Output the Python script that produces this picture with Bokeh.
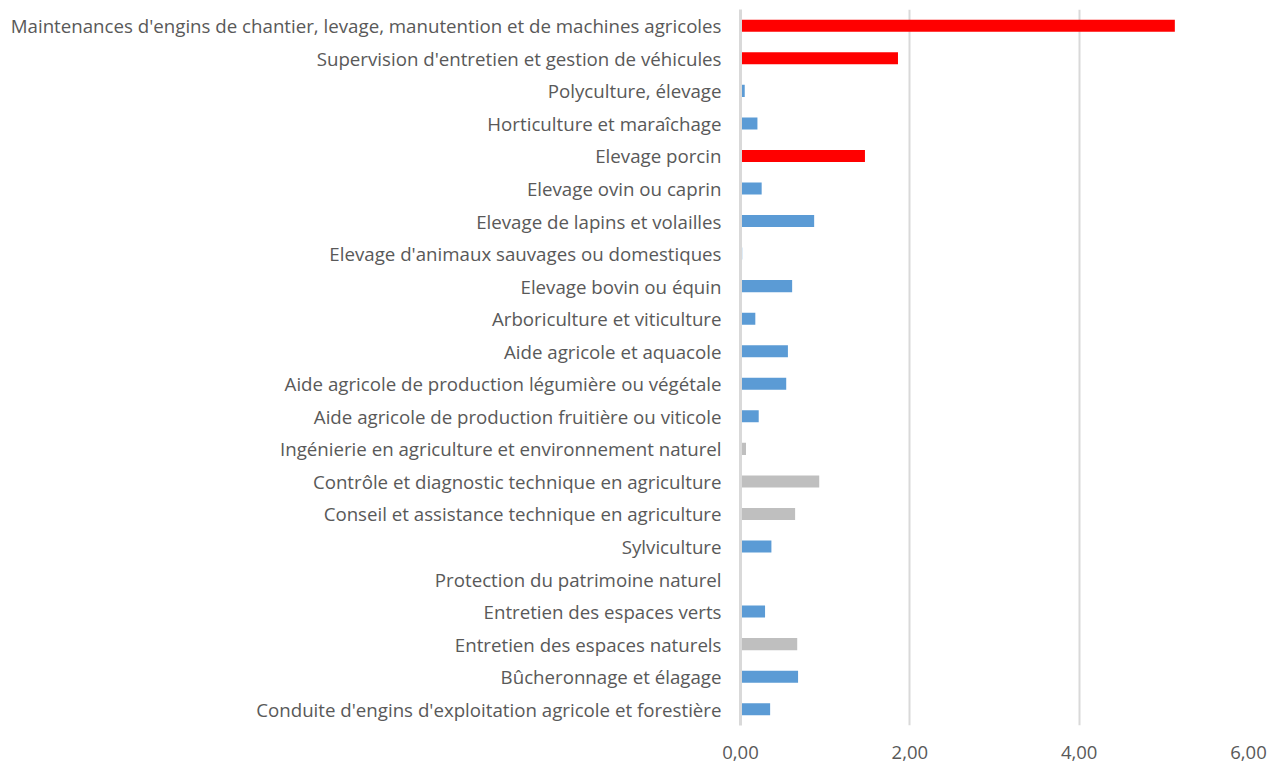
from bokeh.plotting import figure
from bokeh.models import FactorRange, FixedTicker, ColumnDataSource
from bokeh.transform import factor_cmap
from bokeh.embed import file_html
from bokeh.resources import INLINE

categories = [
    "Maintenances d'engins de chantier, levage, manutention et de machines agricoles",
    "Supervision d'entretien et gestion de véhicules",
    "Polyculture, élevage",
    "Horticulture et maraîchage",
    "Elevage porcin",
    "Elevage ovin ou caprin",
    "Elevage de lapins et volailles",
    "Elevage d'animaux sauvages ou domestiques",
    "Elevage bovin ou équin",
    "Arboriculture et viticulture",
    "Aide agricole et aquacole",
    "Aide agricole de production légumière ou végétale",
    "Aide agricole de production fruitière ou viticole",
    "Ingénierie en agriculture et environnement naturel",
    "Contrôle et diagnostic technique en agriculture",
    "Conseil et assistance technique en agriculture",
    "Sylviculture",
    "Protection du patrimoine naturel",
    "Entretien des espaces verts",
    "Entretien des espaces naturels",
    "Bûcheronnage et élagage",
    "Conduite d'engins d'exploitation agricole et forestière",
]
values = [5.13, 1.86, 0.05, 0.20, 1.47, 0.25, 0.87, 0.02, 0.61, 0.175, 0.56,
          0.54, 0.215, 0.065, 0.93, 0.645, 0.365, 0.0, 0.29, 0.67, 0.68, 0.35]
groups = ["haut", "haut", "base", "base", "haut", "base", "base", "base", "base",
          "base", "base", "base", "base", "autre", "autre", "autre", "base",
          "base", "base", "autre", "base", "base"]
tick_values = [0, 2, 4, 6]
tick_labels = ["0,00", "2,00", "4,00", "6,00"]

source = ColumnDataSource(dict(cat=categories, val=values, grp=groups))

p = figure(
    width=1275, height=763,
    y_range=FactorRange(*reversed(categories), range_padding=0),
    x_range=(0, 6),
    output_backend="svg", toolbar_location=None,
    min_border_left=740, min_border_right=27,
    min_border_top=9, min_border_bottom=38,
)
p.hbar(y="cat", right="val", left=0, height=0.37, source=source,
       fill_color=factor_cmap("grp", palette=["#FF0000", "#5B9BD5", "#BFBFBF"],
                              factors=["haut", "base", "autre"]),
       line_color=None)

p.outline_line_color = None
p.ygrid.grid_line_color = None
p.xgrid.ticker = FixedTicker(ticks=tick_values)
p.xgrid.grid_line_color = "#D9D9D9"
p.xgrid.grid_line_width = 2

p.xaxis.ticker = FixedTicker(ticks=tick_values)
p.xaxis.major_label_overrides = {v: l for v, l in zip(tick_values, tick_labels)}
p.xaxis.axis_line_color = None
p.xaxis.major_tick_line_color = None
p.xaxis.minor_tick_line_color = None
p.xaxis.major_label_standoff = 14
p.xaxis.major_label_text_font = "Open Sans"
p.xaxis.major_label_text_font_size = "18.5px"
p.xaxis.major_label_text_color = "#595959"

p.yaxis.axis_line_color = "#D9D9D9"
p.yaxis.axis_line_width = 3
p.yaxis.major_tick_line_color = None
p.yaxis.minor_tick_line_color = None
p.yaxis.major_label_standoff = 13
p.yaxis.major_label_text_font = "Open Sans"
p.yaxis.major_label_text_font_size = "18.7px"
p.yaxis.major_label_text_color = "#595959"

open("out.html", "w").write(file_html(p, INLINE))
